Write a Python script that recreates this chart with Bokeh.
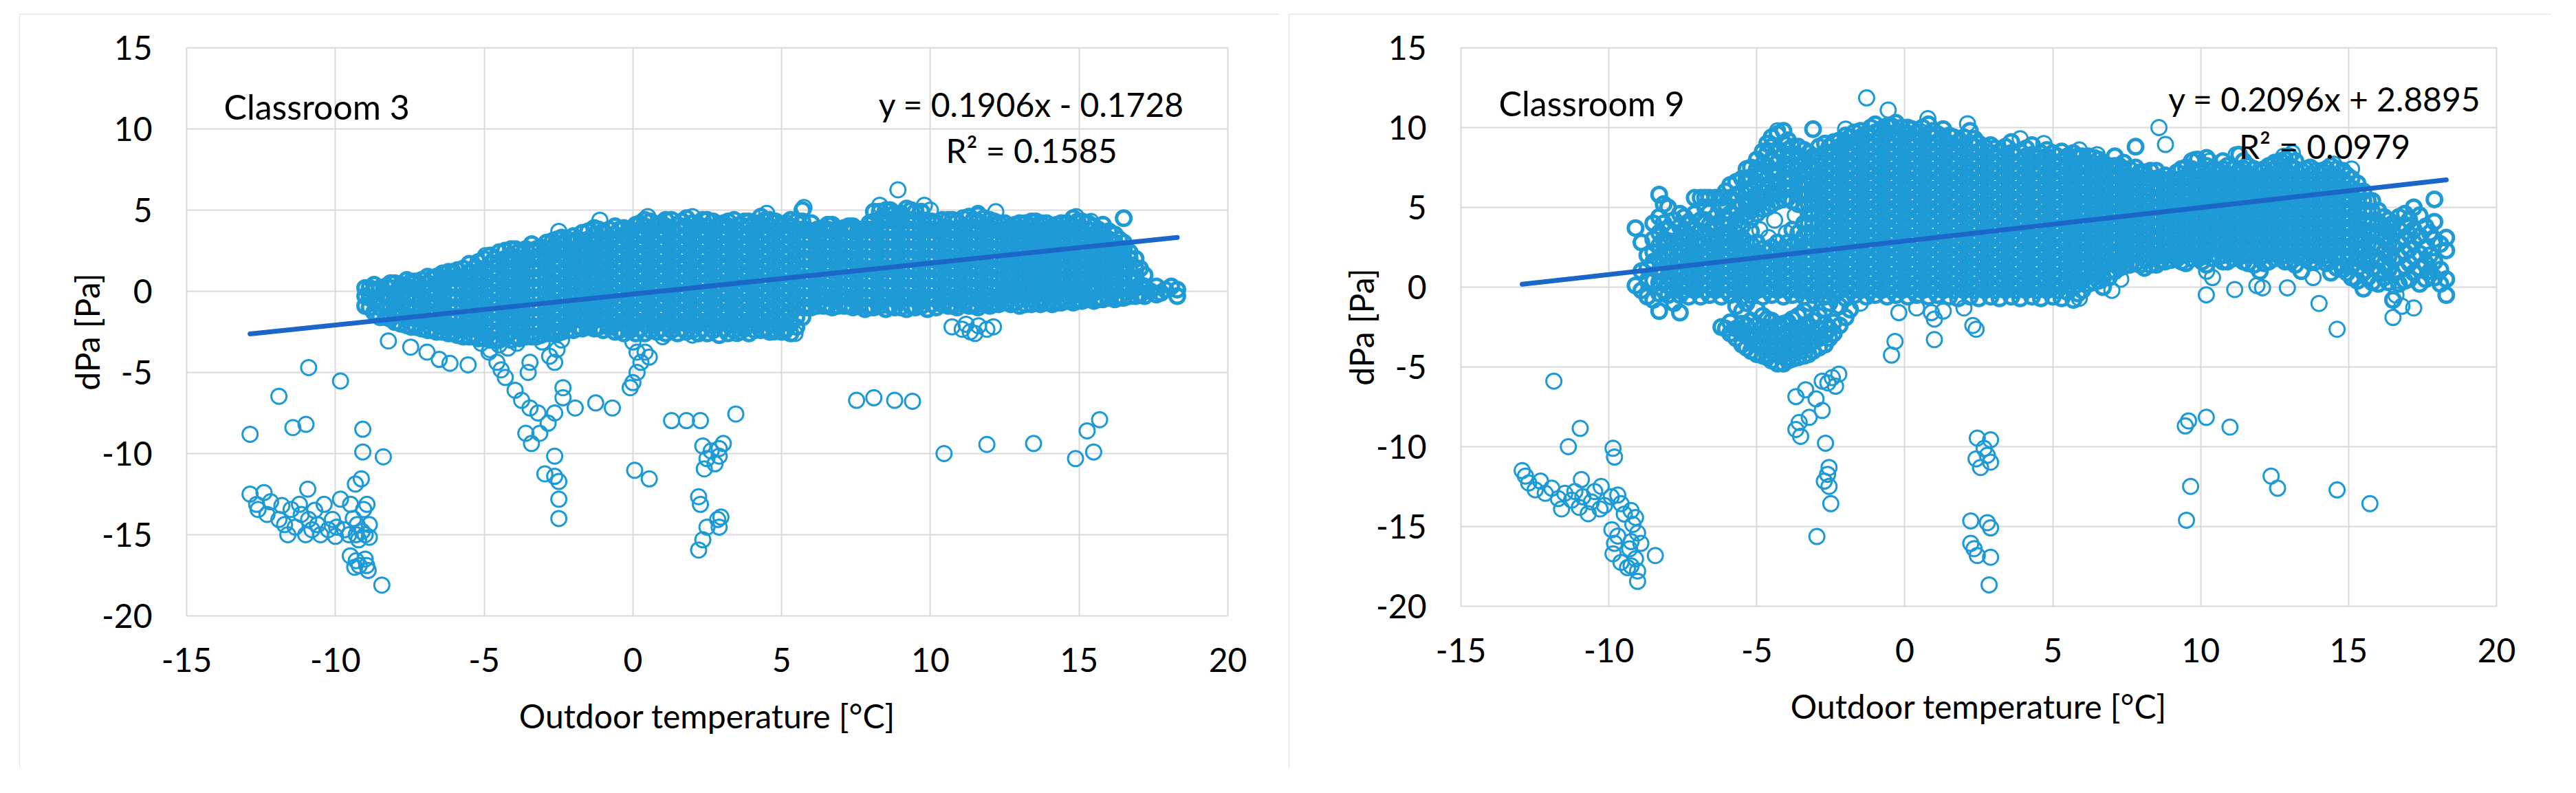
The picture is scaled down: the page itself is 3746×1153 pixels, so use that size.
from bokeh.plotting import figure
from bokeh.models import Label, FixedTicker, Spacer, PrintfTickFormatter
from bokeh.layouts import row, column
from bokeh.embed import file_html
from bokeh.resources import INLINE

# ---------------- data ----------------
x_ticks = [-15, -10, -5, 0, 5, 10, 15, 20]
y_ticks = [-20, -15, -10, -5, 0, 5, 10, 15]
x_title = "Outdoor temperature [°C]"
y_title = "dPa [Pa]"

room3_name = "Classroom 3"
room3_eq = "y = 0.1906x - 0.1728"
room3_r2 = "R² = 0.1585"
room3_fit = (0.1906, -0.1728)

room9_name = "Classroom 9"
room9_eq = "y = 0.2096x + 2.8895"
room9_r2 = "R² = 0.0979"
room9_fit = (0.2096, 2.8895)

# Classroom 3 - dense cloud, read column by column (temperature -> dPa values)
c3_col_x = [-9.0, -8.7, -8.3, -8.0, -7.6, -7.3, -6.9, -6.6, -6.2, -5.9, -5.5, -5.2, -4.8, -4.5, -4.1, -3.8,
            -3.4, -3.1, -2.7, -2.4, -2.0, -1.7, -1.3, -1.0, -0.6, -0.3, 0.1, 0.4, 0.8, 1.1, 1.5, 1.8,
            2.2, 2.5, 2.9, 3.2, 3.6, 3.9, 4.3, 4.6, 5.0, 5.3, 5.7, 6.0, 6.4, 6.7, 7.1, 7.4,
            7.8, 8.1, 8.5, 8.8, 9.2, 9.5, 9.9, 10.2, 10.6, 10.9, 11.3, 11.6, 12.0, 12.3, 12.7, 13.0,
            13.4, 13.7, 14.1, 14.4, 14.8, 15.1, 15.5, 15.8, 16.2, 16.5, 16.9, 17.2, 17.6, 17.9, 18.3]
c3_col_y = [
    [-0.9, -0.3, 0.2],
    [-1.3, -0.6, 0.0, 0.4],
    [-1.6, -1.0, -0.3, 0.3],
    [-1.9, -1.3, -0.7, -0.1, 0.5],
    [-2.1, -1.5, -0.9, -0.3, 0.3, 0.7],
    [-2.2, -1.7, -1.1, -0.5, 0.1, 0.6],
    [-2.4, -1.8, -1.2, -0.6, 0.0, 0.5, 0.9],
    [-2.5, -2.0, -1.4, -0.8, -0.2, 0.4, 0.9],
    [-2.6, -2.1, -1.5, -0.9, -0.3, 0.3, 0.8, 1.2],
    [-2.7, -2.2, -1.6, -1.0, -0.4, 0.2, 0.8, 1.3],
    [-2.8, -2.3, -1.7, -1.1, -0.5, 0.1, 0.7, 1.2, 1.7],
    [-2.9, -2.4, -1.8, -1.2, -0.6, 0.0, 0.6, 1.2, 1.8],
    [-3.0, -2.5, -1.9, -1.3, -0.7, -0.1, 0.5, 1.1, 1.7, 2.2],
    [-3.0, -2.4, -1.8, -1.2, -0.6, 0.0, 0.6, 1.2, 1.8, 2.4],
    [-3.0, -2.5, -1.9, -1.3, -0.7, -0.1, 0.5, 1.1, 1.7, 2.2, 2.6],
    [-2.9, -2.3, -1.7, -1.1, -0.5, 0.1, 0.7, 1.3, 1.9, 2.5],
    [-2.8, -2.2, -1.6, -1.0, -0.4, 0.2, 0.8, 1.4, 2.0, 2.5, 2.9],
    [-2.7, -2.1, -1.5, -0.9, -0.3, 0.3, 0.9, 1.5, 2.1, 2.7],
    [-2.6, -2.0, -1.4, -0.8, -0.2, 0.4, 1.0, 1.6, 2.2, 2.7, 3.1],
    [-2.5, -1.9, -1.3, -0.7, -0.1, 0.5, 1.1, 1.7, 2.3, 2.9, 3.3],
    [-2.4, -1.8, -1.2, -0.6, 0.0, 0.6, 1.2, 1.8, 2.4, 3.0, 3.4],
    [-2.3, -1.7, -1.1, -0.5, 0.1, 0.7, 1.3, 1.9, 2.5, 3.1, 3.6],
    [-2.3, -1.8, -1.2, -0.6, 0.0, 0.6, 1.2, 1.8, 2.4, 3.0, 3.5, 3.9],
    [-2.4, -1.7, -1.1, -0.5, 0.1, 0.7, 1.3, 1.9, 2.5, 3.1, 3.7],
    [-2.5, -1.9, -1.3, -0.7, -0.1, 0.5, 1.1, 1.7, 2.3, 2.9, 3.5, 4.0],
    [-2.6, -2.0, -1.4, -0.8, -0.2, 0.4, 1.0, 1.6, 2.2, 2.8, 3.4, 3.9],
    [-2.6, -1.9, -1.3, -0.7, -0.1, 0.5, 1.1, 1.7, 2.3, 2.9, 3.5, 4.1],
    [-2.6, -2.0, -1.4, -0.8, -0.2, 0.4, 1.0, 1.6, 2.2, 2.8, 3.4, 4.0, 4.4],
    [-2.5, -1.9, -1.3, -0.7, -0.1, 0.5, 1.1, 1.7, 2.3, 2.9, 3.5, 4.1],
    [-2.6, -2.0, -1.4, -0.8, -0.2, 0.4, 1.0, 1.6, 2.2, 2.8, 3.4, 4.0, 4.4],
    [-2.6, -1.9, -1.3, -0.7, -0.1, 0.5, 1.1, 1.7, 2.3, 2.9, 3.5, 4.1],
    [-2.5, -2.0, -1.4, -0.8, -0.2, 0.4, 1.0, 1.6, 2.2, 2.8, 3.4, 4.0, 4.5],
    [-2.6, -1.9, -1.3, -0.7, -0.1, 0.5, 1.1, 1.7, 2.3, 2.9, 3.5, 4.1],
    [-2.6, -2.0, -1.4, -0.8, -0.2, 0.4, 1.0, 1.6, 2.2, 2.8, 3.4, 4.0, 4.4],
    [-2.7, -1.9, -1.3, -0.7, -0.1, 0.5, 1.1, 1.7, 2.3, 2.9, 3.5, 4.1],
    [-2.6, -2.0, -1.4, -0.8, -0.2, 0.4, 1.0, 1.6, 2.2, 2.8, 3.4, 4.0, 4.3],
    [-2.5, -1.9, -1.3, -0.7, -0.1, 0.5, 1.1, 1.7, 2.3, 2.9, 3.5, 4.1],
    [-2.6, -2.0, -1.4, -0.8, -0.2, 0.4, 1.0, 1.6, 2.2, 2.8, 3.4, 4.0, 4.3],
    [-2.4, -1.9, -1.3, -0.7, -0.1, 0.5, 1.1, 1.7, 2.3, 2.9, 3.5, 4.1, 4.6],
    [-2.5, -2.0, -1.4, -0.8, -0.2, 0.4, 1.0, 1.6, 2.2, 2.8, 3.4, 4.0, 4.4],
    [-2.5, -1.9, -1.3, -0.7, -0.1, 0.5, 1.1, 1.7, 2.3, 2.9, 3.5, 4.1],
    [-2.6, -2.0, -1.4, -0.8, -0.2, 0.4, 1.0, 1.6, 2.2, 2.8, 3.4, 4.0, 4.4],
    [-1.6, -1.0, -0.4, 0.2, 0.8, 1.4, 2.0, 2.6, 3.2, 3.8, 4.3, 5.0],
    [-1.0, -0.5, 0.1, 0.7, 1.3, 1.9, 2.5, 3.1, 3.7, 4.2],
    [-0.9, -0.3, 0.3, 0.9, 1.5, 2.1, 2.7, 3.3, 3.9],
    [-1.0, -0.5, 0.1, 0.7, 1.3, 1.9, 2.5, 3.1, 3.7, 4.1],
    [-0.9, -0.3, 0.3, 0.9, 1.5, 2.1, 2.7, 3.3, 3.9],
    [-1.0, -0.5, 0.1, 0.7, 1.3, 1.9, 2.5, 3.1, 3.7, 4.0],
    [-1.1, -0.4, 0.2, 0.8, 1.4, 2.0, 2.6, 3.2, 3.8],
    [-1.0, -0.5, 0.1, 0.7, 1.3, 1.9, 2.5, 3.1, 3.7, 4.3, 4.9],
    [-1.1, -0.4, 0.2, 0.8, 1.4, 2.0, 2.6, 3.2, 3.8, 4.4, 5.0],
    [-1.0, -0.5, 0.1, 0.7, 1.3, 1.9, 2.5, 3.1, 3.7, 4.3, 4.8],
    [-1.1, -0.4, 0.2, 0.8, 1.4, 2.0, 2.6, 3.2, 3.8, 4.4, 5.1],
    [-1.0, -0.5, 0.1, 0.7, 1.3, 1.9, 2.5, 3.1, 3.7, 4.3, 4.9],
    [-1.1, -0.4, 0.2, 0.8, 1.4, 2.0, 2.6, 3.2, 3.8, 4.3],
    [-1.0, -0.5, 0.1, 0.7, 1.3, 1.9, 2.5, 3.1, 3.7, 4.2],
    [-0.9, -0.3, 0.3, 0.9, 1.5, 2.1, 2.7, 3.3, 3.9, 4.4],
    [-1.0, -0.5, 0.1, 0.7, 1.3, 1.9, 2.5, 3.1, 3.7, 4.3],
    [-0.9, -0.3, 0.3, 0.9, 1.5, 2.1, 2.7, 3.3, 3.9, 4.6],
    [-1.0, -0.5, 0.1, 0.7, 1.3, 1.9, 2.5, 3.1, 3.7, 4.3, 4.7],
    [-0.9, -0.3, 0.3, 0.9, 1.5, 2.1, 2.7, 3.3, 3.9, 4.4],
    [-0.8, -0.5, 0.1, 0.7, 1.3, 1.9, 2.5, 3.1, 3.7, 4.2],
    [-0.8, -0.2, 0.4, 1.0, 1.6, 2.2, 2.8, 3.4, 4.0],
    [-0.9, -0.5, 0.1, 0.7, 1.3, 1.9, 2.5, 3.1, 3.7, 4.2],
    [-0.8, -0.2, 0.4, 1.0, 1.6, 2.2, 2.8, 3.4, 4.0, 4.3],
    [-0.8, -0.5, 0.1, 0.7, 1.3, 1.9, 2.5, 3.1, 3.7, 4.2],
    [-0.8, -0.2, 0.4, 1.0, 1.6, 2.2, 2.8, 3.4, 4.0],
    [-0.7, -0.4, 0.1, 0.7, 1.3, 1.9, 2.5, 3.1, 3.7, 4.2],
    [-0.7, -0.2, 0.4, 1.0, 1.6, 2.2, 2.8, 3.4, 4.0, 4.5],
    [-0.6, 0.1, 0.7, 1.3, 1.9, 2.5, 3.1, 3.7, 4.3],
    [-0.6, -0.1, 0.4, 1.0, 1.6, 2.2, 2.8, 3.4, 4.0],
    [-0.5, 0.1, 0.7, 1.3, 1.9, 2.5, 3.1, 3.6, 4.1],
    [-0.5, 0.0, 0.6, 1.2, 1.8, 2.4, 3.0, 3.5],
    [-0.4, 0.2, 0.8, 1.4, 2.0, 2.6, 3.0, 4.5],
    [-0.3, 0.2, 0.8, 1.4, 2.0],
    [-0.3, 0.3, 1.0],
    [-0.2, 0.3],
    [0.1],
    [-0.3, 0.1],
]
# Classroom 3 - second pass of readings between the columns above
c3_mid_x = [-8.85, -8.5, -8.15, -7.8, -7.45, -7.1, -6.75, -6.4, -6.05, -5.7, -5.35, -5.0, -4.65, -4.3, -3.95,
            -3.6, -3.25, -2.9, -2.55, -2.2, -1.85, -1.5, -1.15, -0.8, -0.45, -0.1, 0.25, 0.6, 0.95, 1.3,
            1.65, 2.0, 2.35, 2.7, 3.05, 3.4, 3.75, 4.1, 4.45, 4.8, 5.15, 5.5, 5.85, 6.2, 6.55, 6.9,
            7.25, 7.6, 7.95, 8.3, 8.65, 9.0, 9.35, 9.7, 10.05, 10.4, 10.75, 11.1, 11.45, 11.8, 12.15, 12.5,
            12.85, 13.2, 13.55, 13.9, 14.25, 14.6, 14.95, 15.3, 15.65, 16.0, 16.35, 16.7, 17.05, 17.4, 17.75, 18.1]
c3_mid_y = [
    [-1.0, -0.4, 0.2],
    [-1.6, -1.0, -0.4, 0.2],
    [-1.7, -1.0, -0.4, 0.2, 0.5],
    [-2.0, -1.4, -0.8, -0.2, 0.4],
    [-2.2, -1.6, -1.0, -0.4, 0.2, 0.6],
    [-2.3, -1.6, -1.0, -0.4, 0.2, 0.7],
    [-2.4, -1.6, -1.0, -0.4, 0.2, 0.8],
    [-2.5, -1.6, -1.0, -0.4, 0.2, 0.8, 1.1],
    [-2.6, -2.2, -1.6, -1.0, -0.4, 0.2, 0.8, 1.2],
    [-2.8, -2.2, -1.6, -1.0, -0.4, 0.2, 0.8, 1.4],
    [-2.8, -2.2, -1.6, -1.0, -0.4, 0.2, 0.8, 1.4],
    [-2.9, -2.2, -1.6, -1.0, -0.4, 0.2, 0.8, 1.4, 2.0],
    [-3.0, -2.2, -1.6, -1.0, -0.4, 0.2, 0.8, 1.4, 2.0],
    [-2.8, -2.2, -1.6, -1.0, -0.4, 0.2, 0.8, 1.4, 2.0, 2.5],
    [-2.8, -2.2, -1.6, -1.0, -0.4, 0.2, 0.8, 1.4, 2.0, 2.6],
    [-2.8, -2.2, -1.6, -1.0, -0.4, 0.2, 0.8, 1.4, 2.0, 2.6],
    [-2.8, -2.2, -1.6, -1.0, -0.4, 0.2, 0.8, 1.4, 2.0, 2.6],
    [-2.6, -2.2, -1.6, -1.0, -0.4, 0.2, 0.8, 1.4, 2.0, 2.6, 3.0],
    [-2.6, -2.2, -1.6, -1.0, -0.4, 0.2, 0.8, 1.4, 2.0, 2.6, 3.2],
    [-2.4, -1.6, -1.0, -0.4, 0.2, 0.8, 1.4, 2.0, 2.6, 3.2],
    [-2.2, -1.6, -1.0, -0.4, 0.2, 0.8, 1.4, 2.0, 2.6, 3.2],
    [-2.2, -1.6, -1.0, -0.4, 0.2, 0.8, 1.4, 2.0, 2.6, 3.2, 3.7],
    [-2.2, -1.6, -1.0, -0.4, 0.2, 0.8, 1.4, 2.0, 2.6, 3.2, 3.8],
    [-2.2, -1.6, -1.0, -0.4, 0.2, 0.8, 1.4, 2.0, 2.6, 3.2, 3.8],
    [-2.4, -1.6, -1.0, -0.4, 0.2, 0.8, 1.4, 2.0, 2.6, 3.2, 3.8],
    [-2.4, -1.6, -1.0, -0.4, 0.2, 0.8, 1.4, 2.0, 2.6, 3.2, 3.8],
    [-2.3, -1.6, -1.0, -0.4, 0.2, 0.8, 1.4, 2.0, 2.6, 3.2, 3.8, 4.2],
    [-2.4, -1.6, -1.0, -0.4, 0.2, 0.8, 1.4, 2.0, 2.6, 3.2, 3.8, 4.3],
    [-2.3, -1.6, -1.0, -0.4, 0.2, 0.8, 1.4, 2.0, 2.6, 3.2, 3.8, 4.2],
    [-2.4, -1.6, -1.0, -0.4, 0.2, 0.8, 1.4, 2.0, 2.6, 3.2, 3.8, 4.4],
    [-2.3, -1.6, -1.0, -0.4, 0.2, 0.8, 1.4, 2.0, 2.6, 3.2, 3.8, 4.3],
    [-2.4, -1.6, -1.0, -0.4, 0.2, 0.8, 1.4, 2.0, 2.6, 3.2, 3.8, 4.2],
    [-2.3, -1.6, -1.0, -0.4, 0.2, 0.8, 1.4, 2.0, 2.6, 3.2, 3.8, 4.4],
    [-2.4, -1.6, -1.0, -0.4, 0.2, 0.8, 1.4, 2.0, 2.6, 3.2, 3.8, 4.3],
    [-2.3, -1.6, -1.0, -0.4, 0.2, 0.8, 1.4, 2.0, 2.6, 3.2, 3.8, 4.2],
    [-2.4, -1.6, -1.0, -0.4, 0.2, 0.8, 1.4, 2.0, 2.6, 3.2, 3.8, 4.4],
    [-2.3, -1.6, -1.0, -0.4, 0.2, 0.8, 1.4, 2.0, 2.6, 3.2, 3.8, 4.3],
    [-2.4, -1.6, -1.0, -0.4, 0.2, 0.8, 1.4, 2.0, 2.6, 3.2, 3.8, 4.2],
    [-2.3, -1.6, -1.0, -0.4, 0.2, 0.8, 1.4, 2.0, 2.6, 3.2, 3.8, 4.4],
    [-2.4, -1.6, -1.0, -0.4, 0.2, 0.8, 1.4, 2.0, 2.6, 3.2, 3.8, 4.3],
    [-2.3, -1.6, -1.0, -0.4, 0.2, 0.8, 1.4, 2.0, 2.6, 3.2, 3.8, 4.2],
    [-2.2, -1.6, -1.0, -0.4, 0.2, 0.8, 1.4, 2.0, 2.6, 3.2, 3.8, 4.3],
    [-1.0, -0.4, 0.2, 0.8, 1.4, 2.0, 2.6, 3.2, 3.8],
    [-0.9, -0.4, 0.2, 0.8, 1.4, 2.0, 2.6, 3.2, 3.8],
    [-0.9, -0.4, 0.2, 0.8, 1.4, 2.0, 2.6, 3.2, 3.8, 4.1],
    [-0.9, -0.4, 0.2, 0.8, 1.4, 2.0, 2.6, 3.2, 3.8],
    [-0.9, -0.4, 0.2, 0.8, 1.4, 2.0, 2.6, 3.2, 3.8, 4.0],
    [-0.9, -0.4, 0.2, 0.8, 1.4, 2.0, 2.6, 3.2, 3.8],
    [-1.0, -0.4, 0.2, 0.8, 1.4, 2.0, 2.6, 3.2, 3.8, 4.2],
    [-0.9, -0.4, 0.2, 0.8, 1.4, 2.0, 2.6, 3.2, 3.8, 4.4, 4.9],
    [-0.9, -0.4, 0.2, 0.8, 1.4, 2.0, 2.6, 3.2, 3.8, 4.4, 5.0],
    [-1.0, -0.4, 0.2, 0.8, 1.4, 2.0, 2.6, 3.2, 3.8, 4.4, 4.8],
    [-0.9, -0.4, 0.2, 0.8, 1.4, 2.0, 2.6, 3.2, 3.8, 4.4, 5.0],
    [-0.9, -0.4, 0.2, 0.8, 1.4, 2.0, 2.6, 3.2, 3.8, 4.4, 4.9],
    [-0.8, -0.4, 0.2, 0.8, 1.4, 2.0, 2.6, 3.2, 3.8, 4.3],
    [-0.8, -0.4, 0.2, 0.8, 1.4, 2.0, 2.6, 3.2, 3.8, 4.4],
    [-0.9, -0.4, 0.2, 0.8, 1.4, 2.0, 2.6, 3.2, 3.8, 4.4],
    [-0.8, -0.4, 0.2, 0.8, 1.4, 2.0, 2.6, 3.2, 3.8, 4.5],
    [-0.9, -0.4, 0.2, 0.8, 1.4, 2.0, 2.6, 3.2, 3.8, 4.4],
    [-0.8, -0.4, 0.2, 0.8, 1.4, 2.0, 2.6, 3.2, 3.8, 4.5],
    [-0.8, -0.4, 0.2, 0.8, 1.4, 2.0, 2.6, 3.2, 3.8, 4.3],
    [-0.7, -0.2, 0.2, 0.8, 1.4, 2.0, 2.6, 3.2, 3.8, 4.2],
    [-0.7, -0.2, 0.2, 0.8, 1.4, 2.0, 2.6, 3.2, 3.8, 4.1],
    [-0.8, -0.2, 0.2, 0.8, 1.4, 2.0, 2.6, 3.2, 3.8, 4.2],
    [-0.7, -0.2, 0.2, 0.8, 1.4, 2.0, 2.6, 3.2, 3.8, 4.3],
    [-0.7, -0.2, 0.2, 0.8, 1.4, 2.0, 2.6, 3.2, 3.8, 4.2],
    [-0.7, -0.2, 0.2, 0.8, 1.4, 2.0, 2.6, 3.2, 3.8, 4.1],
    [-0.6, -0.2, 0.2, 0.8, 1.4, 2.0, 2.6, 3.2, 3.8, 4.2],
    [-0.6, -0.2, 0.2, 0.8, 1.4, 2.0, 2.6, 3.2, 3.8, 4.3],
    [-0.5, 0.2, 0.8, 1.4, 2.0, 2.6, 3.2, 3.8, 4.2],
    [-0.5, 0.2, 0.8, 1.4, 2.0, 2.6, 3.2, 3.8],
    [-0.4, 0.2, 0.8, 1.4, 2.0, 2.6, 3.2, 3.7],
    [-0.4, 0.2, 0.8, 1.4, 2.0, 2.6, 3.2],
    [-0.3, 0.2, 0.8, 1.4, 2.0, 2.4],
    [-0.2, 0.4, 1.4],
    [0.0],
    [-0.1],
    [0.3],
]
# Classroom 3 - scattered points outside the cloud
c3_out = [
    (-12.87, -8.81), (-11.9, -6.47), (-10.9, -4.7), (-9.83, -5.53), (-11.43, -8.4), (-10.99, -8.2),
    (-9.08, -8.5), (-9.08, -9.9), (-8.39, -10.2),
    (-12.87, -12.5), (-12.65, -13.13), (-12.6, -13.44), (-12.3, -13.75), (-12.18, -12.97), (-11.9, -14.06),
    (-11.71, -14.38), (-11.49, -13.44), (-11.35, -14.53), (-11.21, -13.13), (-11.15, -13.75), (-10.93, -12.19),
    (-10.9, -14.06), (-10.79, -14.69), (-10.6, -14.38), (-10.38, -13.13), (-10.24, -14.69), (-10.1, -14.06),
    (-9.96, -14.53), (-9.83, -12.81), (-9.69, -14.69), (-9.55, -15.0), (-9.49, -13.13), (-9.33, -11.88),
    (-9.27, -14.38), (-9.22, -15.31), (-9.13, -11.56), (-9.05, -13.44), (-9.0, -15.0), (-8.94, -13.13),
    (-8.86, -14.38), (-8.86, -15.16), (-10.5, -15.0), (-11.6, -15.0), (-11.0, -15.0), (-10.0, -15.1),
    (-9.3, -15.0), (-9.1, -14.8), (-9.4, -14.0), (-11.8, -13.2), (-12.4, -12.4), (-10.7, -13.5),
    (-9.5, -16.3), (-9.3, -16.6), (-9.2, -16.9), (-9.0, -16.5), (-8.95, -16.9), (-8.9, -17.2), (-9.35, -17.0),
    (-8.44, -18.1),
    (-8.22, -3.06), (-7.47, -3.44), (-6.92, -3.75), (-6.51, -4.2), (-6.15, -4.44), (-5.54, -4.53),
    (-5.1, -3.2), (-4.8, -3.6), (-4.5, -3.3), (-4.2, -3.5), (-3.9, -3.2), (-4.84, -3.75), (-4.57, -4.38),
    (-4.43, -4.84), (-4.29, -5.31), (-3.96, -6.1), (-3.74, -6.72), (-3.46, -7.19), (-3.19, -7.5),
    (-3.6, -8.75), (-3.41, -9.38), (-3.13, -8.75), (-2.85, -8.13), (-2.63, -7.5), (-2.35, -6.56),
    (-2.35, -5.94), (-2.63, -4.38), (-2.55, -3.59), (-3.05, -3.13), (-3.46, -4.38), (-3.52, -5.0),
    (-2.4, -3.0), (-2.8, -4.0),
    (-2.96, -11.25), (-2.63, -11.4), (-2.49, -11.72), (-2.63, -10.16), (-2.49, -12.81), (-2.49, -14.0),
    (-1.94, -7.19), (-1.25, -6.88), (-0.69, -7.19),
    (0.0, -3.13), (0.14, -3.75), (0.27, -4.38), (0.41, -3.75), (0.55, -4.06), (0.14, -5.0), (0.0, -5.63),
    (-0.09, -5.94), (0.06, -11.03), (0.55, -11.56),
    (1.3, -7.97), (1.8, -7.97), (2.27, -7.97), (3.46, -7.56),
    (2.35, -9.53), (2.63, -9.84), (2.9, -9.69), (2.49, -10.31), (2.76, -10.63), (2.9, -10.16), (2.4, -10.94),
    (3.04, -9.38), (2.21, -12.66), (2.27, -13.13), (2.21, -15.94), (2.35, -15.31), (2.49, -14.53),
    (2.85, -14.06), (2.9, -14.53), (2.96, -13.91),
    (7.52, -6.72), (8.1, -6.56), (8.8, -6.72), (9.4, -6.78),
    (10.46, -10.0), (11.9, -9.44), (13.47, -9.38), (14.88, -10.31), (15.49, -9.9), (15.27, -8.6), (15.69, -7.91),
    (10.73, -2.19), (11.07, -2.34), (11.34, -2.5), (11.62, -2.13), (11.9, -2.34), (12.12, -2.19), (11.2, -2.03),
    (11.5, -2.6), (4.34, -2.34), (4.76, -2.5), (5.12, -2.44), (5.45, -2.6), (3.5, -2.6), (1.0, -2.8), (2.0, -2.7),
    (8.91, 6.25), (8.3, 5.3), (5.75, 5.16), (-1.11, 4.38), (-2.49, 3.69), (-4.96, 2.19), (9.8, 5.3), (10.0, 5.0),
    (11.6, 4.8), (12.2, 4.9), (14.9, 4.6), (15.4, 4.3), (4.5, 4.8), (0.5, 4.6), (2.0, 4.6),
]

# Classroom 9 - dense cloud, read column by column
c9_col_x = [-9.1, -8.7, -8.3, -8.0, -7.6, -7.3, -6.9, -6.6, -6.2, -5.9, -5.5, -5.2, -4.8, -4.5, -4.1, -3.8,
            -3.4, -3.1, -2.7, -2.4, -2.0, -1.7, -1.3, -1.0, -0.6, -0.3, 0.1, 0.4, 0.8, 1.1, 1.5, 1.8,
            2.2, 2.5, 2.9, 3.2, 3.6, 3.9, 4.3, 4.6, 5.0, 5.3, 5.7, 6.0, 6.4, 6.7, 7.1, 7.4,
            7.8, 8.1, 8.5, 8.8, 9.2, 9.5, 9.9, 10.2, 10.6, 10.9, 11.3, 11.6, 12.0, 12.3, 12.7, 13.0,
            13.4, 13.7, 14.1, 14.4, 14.8, 15.1, 15.5, 15.8, 16.2, 16.5, 16.9, 17.2, 17.6, 17.9, 18.3]
c9_col_y = [
    [0.1, 3.7],
    [-0.6, 0.4, 1.2, 2.0],
    [-1.5, -0.4, 0.3, 1.0, 1.8, 2.6, 3.4, 4.4, 5.8],
    [-0.5, 0.1, 0.7, 1.4, 2.1, 2.9, 3.6, 5.0],
    [-1.6, -0.5, 0.2, 0.9, 1.6, 2.3, 3.0, 3.8, 4.6],
    [-0.6, 0.0, 0.6, 1.2, 1.9, 2.6, 3.3, 4.1],
    [-0.6, 0.2, 0.8, 1.4, 2.0, 2.7, 3.5, 4.2, 5.6],
    [-0.5, 0.1, 0.7, 1.3, 1.9, 2.5, 3.2, 3.9, 4.7, 5.6],
    [-2.5, -0.6, 0.2, 0.8, 1.4, 2.0, 2.6, 3.3, 4.0, 5.0, 5.6],
    [-2.9, -2.2, -0.5, 0.1, 0.7, 1.3, 1.9, 2.5, 3.2, 3.9, 4.6, 5.6, 6.4],
    [-3.6, -2.9, -2.3, -1.5, -0.6, 0.0, 0.6, 1.2, 1.8, 2.4, 3.1, 3.8, 4.5, 5.2, 5.9, 6.8],
    [-4.0, -3.3, -2.7, -2.1, -0.5, 0.2, 0.8, 1.4, 2.0, 2.7, 3.5, 4.8, 5.5, 6.2, 6.9, 7.5],
    [-4.3, -3.7, -3.1, -2.5, -1.8, -0.6, 0.0, 0.6, 1.2, 1.8, 2.4, 4.9, 5.6, 6.3, 7.0, 7.7, 8.5],
    [-4.6, -4.0, -3.4, -2.8, -2.1, -0.5, 0.1, 0.7, 1.3, 1.9, 2.5, 5.2, 5.9, 6.6, 7.3, 8.0, 8.8, 9.4],
    [-4.8, -4.2, -3.6, -3.0, -2.3, -0.6, 0.0, 0.6, 1.2, 1.8, 2.4, 5.5, 6.2, 6.9, 7.6, 8.3, 9.0, 9.8],
    [-4.5, -3.9, -3.3, -2.7, -2.0, -0.5, 0.1, 0.7, 1.3, 1.9, 2.6, 3.6, 5.4, 6.1, 6.8, 7.5, 8.2, 8.8],
    [-4.3, -3.7, -3.1, -2.4, -1.5, -0.6, 0.0, 0.6, 1.2, 1.8, 2.5, 3.2, 4.0, 5.1, 5.8, 6.5, 7.2, 7.9, 8.6],
    [-4.0, -3.4, -2.8, -2.1, -0.5, 0.1, 0.7, 1.3, 1.9, 2.6, 3.3, 4.0, 4.7, 5.4, 6.1, 6.8, 7.5, 8.2, 9.9],
    [-3.6, -3.0, -2.3, -1.4, -0.6, 0.0, 0.6, 1.2, 1.8, 2.4, 3.0, 3.6, 4.2, 4.8, 5.4, 6.0, 6.6, 7.2, 7.8, 8.4, 9.0],
    [-2.9, -2.2, -0.5, 0.1, 0.7, 1.3, 1.9, 2.5, 3.1, 3.7, 4.3, 4.9, 5.5, 6.1, 6.7, 7.3, 7.9, 8.5, 9.1],
    [-1.9, -0.7, 0.0, 0.6, 1.2, 1.8, 2.4, 3.0, 3.6, 4.2, 4.8, 5.4, 6.0, 6.6, 7.2, 7.8, 8.4, 9.0, 9.5],
    [-0.5, 0.1, 0.7, 1.3, 1.9, 2.5, 3.1, 3.7, 4.3, 4.9, 5.5, 6.1, 6.7, 7.3, 7.9, 8.5, 9.1, 9.7],
    [-0.6, 0.0, 0.6, 1.2, 1.8, 2.4, 3.0, 3.6, 4.2, 4.8, 5.4, 6.0, 6.6, 7.2, 7.8, 8.4, 9.0, 9.6],
    [-0.5, 0.1, 0.7, 1.3, 1.9, 2.5, 3.1, 3.7, 4.3, 4.9, 5.5, 6.1, 6.7, 7.3, 7.9, 8.5, 9.1, 9.7, 10.2],
    [-0.6, 0.0, 0.6, 1.2, 1.8, 2.4, 3.0, 3.6, 4.2, 4.8, 5.4, 6.0, 6.6, 7.2, 7.8, 8.4, 9.0, 9.6, 10.1],
    [-0.5, 0.1, 0.7, 1.3, 1.9, 2.5, 3.1, 3.7, 4.3, 4.9, 5.5, 6.1, 6.7, 7.3, 7.9, 8.5, 9.1, 9.7, 10.3],
    [-0.6, 0.0, 0.6, 1.2, 1.8, 2.4, 3.0, 3.6, 4.2, 4.8, 5.4, 6.0, 6.6, 7.2, 7.8, 8.4, 9.0, 9.6, 10.0],
    [-0.5, 0.1, 0.7, 1.3, 1.9, 2.5, 3.1, 3.7, 4.3, 4.9, 5.5, 6.1, 6.7, 7.3, 7.9, 8.5, 9.1, 9.7],
    [-0.6, 0.0, 0.6, 1.2, 1.8, 2.4, 3.0, 3.6, 4.2, 4.8, 5.4, 6.0, 6.6, 7.2, 7.8, 8.4, 9.0, 9.6, 10.2],
    [-0.5, 0.1, 0.7, 1.3, 1.9, 2.5, 3.1, 3.7, 4.3, 4.9, 5.5, 6.1, 6.7, 7.3, 7.9, 8.5, 9.1, 9.6],
    [-0.6, 0.0, 0.6, 1.2, 1.8, 2.4, 3.0, 3.6, 4.2, 4.8, 5.4, 6.0, 6.6, 7.2, 7.8, 8.4, 9.0, 9.5],
    [-0.7, 0.1, 0.7, 1.3, 1.9, 2.5, 3.1, 3.7, 4.3, 4.9, 5.5, 6.1, 6.7, 7.3, 7.9, 8.5, 9.1],
    [-0.6, 0.0, 0.6, 1.2, 1.8, 2.4, 3.0, 3.6, 4.2, 4.8, 5.4, 6.0, 6.6, 7.2, 7.8, 8.4, 9.0, 9.8],
    [-0.7, 0.1, 0.7, 1.3, 1.9, 2.5, 3.1, 3.7, 4.3, 4.9, 5.5, 6.1, 6.7, 7.3, 7.9, 8.5, 9.0],
    [-0.6, 0.0, 0.6, 1.2, 1.8, 2.4, 3.0, 3.6, 4.2, 4.8, 5.4, 6.0, 6.6, 7.2, 7.8, 8.4, 8.9],
    [-0.7, 0.1, 0.7, 1.3, 1.9, 2.5, 3.1, 3.7, 4.3, 4.9, 5.5, 6.1, 6.7, 7.3, 7.9, 8.5],
    [-0.6, 0.0, 0.6, 1.2, 1.8, 2.4, 3.0, 3.6, 4.2, 4.8, 5.4, 6.0, 6.6, 7.2, 7.8, 8.4, 9.1],
    [-0.7, 0.1, 0.7, 1.3, 1.9, 2.5, 3.1, 3.7, 4.3, 4.9, 5.5, 6.1, 6.7, 7.3, 7.9, 8.5],
    [-0.6, 0.0, 0.6, 1.2, 1.8, 2.4, 3.0, 3.6, 4.2, 4.8, 5.4, 6.0, 6.6, 7.2, 7.8, 8.3, 8.9],
    [-0.7, 0.1, 0.7, 1.3, 1.9, 2.5, 3.1, 3.7, 4.3, 4.9, 5.5, 6.1, 6.7, 7.3, 7.9, 8.4],
    [-0.6, 0.0, 0.6, 1.2, 1.8, 2.4, 3.0, 3.6, 4.2, 4.8, 5.4, 6.0, 6.6, 7.2, 7.8, 8.4],
    [-0.7, 0.1, 0.7, 1.3, 1.9, 2.5, 3.1, 3.7, 4.3, 4.9, 5.5, 6.1, 6.7, 7.3, 7.9, 8.5],
    [-0.8, 0.0, 0.6, 1.2, 1.8, 2.4, 3.0, 3.6, 4.2, 4.8, 5.4, 6.0, 6.6, 7.2, 7.8, 8.4],
    [-0.2, 0.4, 1.0, 1.6, 2.2, 2.8, 3.4, 4.0, 4.6, 5.2, 5.8, 6.4, 7.0, 7.6, 8.2],
    [0.3, 0.9, 1.5, 2.1, 2.7, 3.3, 3.9, 4.5, 5.1, 5.7, 6.3, 6.9, 7.5, 8.1],
    [0.0, 0.6, 1.2, 1.8, 2.4, 3.0, 3.6, 4.2, 4.8, 5.4, 6.0, 6.6, 7.2, 7.8],
    [1.0, 1.6, 2.2, 2.8, 3.4, 4.0, 4.6, 5.2, 5.8, 6.4, 7.0, 7.6, 8.2],
    [1.3, 1.9, 2.5, 3.1, 3.7, 4.3, 4.9, 5.5, 6.1, 6.7, 7.3, 7.8],
    [1.5, 2.1, 2.7, 3.3, 3.9, 4.5, 5.1, 5.7, 6.3, 6.9, 7.5, 8.8],
    [1.2, 1.8, 2.4, 3.0, 3.6, 4.2, 4.8, 5.4, 6.0, 6.6, 7.2],
    [1.4, 2.0, 2.6, 3.2, 3.8, 4.4, 5.0, 5.6, 6.2, 6.8, 7.3],
    [1.6, 2.2, 2.8, 3.4, 4.0, 4.6, 5.2, 5.8, 6.4, 7.0],
    [1.8, 2.4, 3.0, 3.6, 4.2, 4.8, 5.4, 6.0, 6.6, 7.2],
    [1.5, 2.1, 2.7, 3.3, 3.9, 4.5, 5.1, 5.7, 6.3, 6.9, 7.5],
    [1.9, 2.5, 3.1, 3.7, 4.3, 4.9, 5.5, 6.1, 6.7, 7.3, 8.0],
    [1.4, 2.2, 2.8, 3.4, 4.0, 4.6, 5.2, 5.8, 6.4, 7.0, 7.6, 8.1],
    [1.9, 2.5, 3.1, 3.7, 4.3, 4.9, 5.5, 6.1, 6.7, 7.3],
    [1.6, 2.2, 2.8, 3.4, 4.0, 4.6, 5.2, 5.8, 6.4, 7.0, 7.6],
    [1.9, 2.5, 3.1, 3.7, 4.3, 4.9, 5.5, 6.1, 6.7, 7.3, 8.3],
    [1.5, 2.2, 2.8, 3.4, 4.0, 4.6, 5.2, 5.8, 6.4, 7.0, 7.6],
    [1.0, 1.9, 2.5, 3.1, 3.7, 4.3, 4.9, 5.5, 6.1, 6.7, 7.3],
    [1.6, 2.2, 2.8, 3.4, 4.0, 4.6, 5.2, 5.8, 6.4, 7.0, 7.6],
    [1.9, 2.5, 3.1, 3.7, 4.3, 4.9, 5.5, 6.1, 6.7, 7.3, 7.9],
    [1.6, 2.2, 2.8, 3.4, 4.0, 4.6, 5.2, 5.8, 6.4, 7.0, 7.6, 8.2],
    [1.0, 1.9, 2.5, 3.1, 3.7, 4.3, 4.9, 5.5, 6.1, 6.7, 7.3],
    [1.6, 2.2, 2.8, 3.4, 4.0, 4.6, 5.2, 5.8, 6.4, 7.0, 7.5],
    [1.9, 2.5, 3.1, 3.7, 4.3, 4.9, 5.5, 6.1, 6.7, 7.3],
    [0.9, 1.6, 2.2, 2.8, 3.4, 4.0, 4.6, 5.2, 5.8, 6.4, 7.0, 7.6],
    [1.1, 1.9, 2.5, 3.1, 3.7, 4.3, 4.9, 5.5, 6.1, 6.7, 7.3],
    [0.6, 1.3, 2.0, 2.6, 3.2, 3.8, 4.4, 5.0, 5.6, 6.2, 6.8],
    [-0.1, 0.9, 1.6, 2.3, 3.0, 3.6, 4.2, 4.8, 5.4, 6.0],
    [0.3, 1.2, 1.9, 2.6, 3.3, 4.0, 4.7, 5.4],
    [0.6, 1.4, 2.2, 3.0, 3.7, 4.4],
    [-0.8, 0.8, 1.7, 2.5, 3.3, 4.0],
    [0.4, 1.3, 2.2, 3.1, 3.9, 4.6],
    [0.9, 1.9, 2.8, 3.6, 5.0],
    [0.5, 1.5, 2.5, 3.8],
    [0.6, 1.6, 3.0, 4.1, 5.5],
    [-0.5, 0.5, 2.3, 3.1],
]
# Classroom 9 - second pass of readings between the columns above
c9_mid_x = [-8.9, -8.5, -8.15, -7.8, -7.45, -7.1, -6.75, -6.4, -6.05, -5.7, -5.35, -5.0, -4.65, -4.3, -3.95,
            -3.6, -3.25, -2.9, -2.55, -2.2, -1.85, -1.5, -1.15, -0.8, -0.45, -0.1, 0.25, 0.6, 0.95, 1.3,
            1.65, 2.0, 2.35, 2.7, 3.05, 3.4, 3.75, 4.1, 4.45, 4.8, 5.15, 5.5, 5.85, 6.2, 6.55, 6.9,
            7.25, 7.6, 7.95, 8.3, 8.65, 9.0, 9.35, 9.7, 10.05, 10.4, 10.75, 11.1, 11.45, 11.8, 12.15, 12.5,
            12.85, 13.2, 13.55, 13.9, 14.25, 14.6, 14.95, 15.3, 15.65, 16.0, 16.35, 16.7, 17.05, 17.4, 17.75, 18.1]
c9_mid_y = [
    [-0.2, 1.0, 2.8],
    [-0.8, 0.4, 1.6, 2.2, 3.0, 4.0],
    [-0.2, 0.4, 1.0, 1.6, 2.2, 3.0, 4.0, 5.2],
    [-1.0, -0.2, 0.4, 1.0, 1.6, 2.2, 2.8, 3.4, 4.2],
    [-0.2, 0.4, 1.0, 1.6, 2.2, 2.8, 3.4, 4.4],
    [-0.2, 0.4, 1.0, 1.6, 2.2, 2.8, 3.6, 4.6, 5.6],
    [-0.2, 0.4, 1.0, 1.6, 2.2, 2.8, 3.4, 4.2, 5.0, 5.6],
    [-0.2, 0.4, 1.0, 1.6, 2.2, 2.8, 3.6, 4.4, 5.6],
    [-2.6, -0.2, 0.4, 1.0, 1.6, 2.2, 2.8, 3.4, 4.2, 5.2, 6.0],
    [-3.2, -2.6, -1.2, -0.2, 0.4, 1.0, 1.6, 2.2, 2.8, 3.4, 4.2, 5.0, 5.8, 6.6],
    [-3.8, -3.0, -2.4, -1.0, -0.2, 0.4, 1.0, 1.6, 2.2, 2.8, 4.4, 5.2, 6.0, 6.8, 7.4],
    [-4.2, -3.6, -3.0, -2.4, -1.4, -0.2, 0.4, 1.0, 1.6, 2.2, 2.8, 4.6, 5.2, 5.8, 6.6, 7.4, 8.0],
    [-4.4, -3.8, -3.2, -2.6, -2.0, -0.2, 0.4, 1.0, 1.6, 2.2, 5.0, 5.6, 6.2, 6.8, 7.6, 8.4, 9.0],
    [-4.8, -4.2, -3.6, -3.0, -2.4, -0.2, 0.4, 1.0, 1.6, 2.2, 2.8, 5.4, 6.0, 6.6, 7.2, 7.8, 8.6, 9.6],
    [-4.6, -4.0, -3.4, -2.8, -2.2, -0.2, 0.4, 1.0, 1.6, 2.2, 2.8, 5.6, 6.2, 6.8, 7.4, 8.0, 8.6, 9.2],
    [-4.4, -3.8, -3.2, -2.6, -1.8, -0.2, 0.4, 1.0, 1.6, 2.2, 2.8, 3.4, 5.2, 5.8, 6.4, 7.0, 7.6, 8.2, 8.8],
    [-4.2, -3.6, -3.0, -2.4, -1.0, -0.2, 0.4, 1.0, 1.6, 2.2, 2.8, 3.4, 4.0, 4.6, 5.2, 5.8, 6.4, 7.0, 7.6, 8.4],
    [-3.8, -3.2, -2.6, -1.8, -0.2, 0.4, 1.0, 1.6, 2.2, 2.8, 3.4, 4.0, 4.6, 5.2, 5.8, 6.4, 7.0, 7.6, 8.2, 8.8],
    [-3.2, -2.6, -1.0, -0.2, 0.4, 1.0, 1.6, 2.2, 2.8, 3.4, 4.0, 4.6, 5.2, 5.8, 6.4, 7.0, 7.6, 8.2, 8.8],
    [-2.4, -1.2, -0.2, 0.4, 1.0, 1.6, 2.2, 2.8, 3.4, 4.0, 4.6, 5.2, 5.8, 6.4, 7.0, 7.6, 8.2, 8.8, 9.2],
    [-1.4, -0.2, 0.4, 1.0, 1.6, 2.2, 2.8, 3.4, 4.0, 4.6, 5.2, 5.8, 6.4, 7.0, 7.6, 8.2, 8.8, 9.4],
    [-0.2, 0.4, 1.0, 1.6, 2.2, 2.8, 3.4, 4.0, 4.6, 5.2, 5.8, 6.4, 7.0, 7.6, 8.2, 8.8, 9.4, 9.8],
    [-0.2, 0.4, 1.0, 1.6, 2.2, 2.8, 3.4, 4.0, 4.6, 5.2, 5.8, 6.4, 7.0, 7.6, 8.2, 8.8, 9.4, 10.0],
    [-0.2, 0.4, 1.0, 1.6, 2.2, 2.8, 3.4, 4.0, 4.6, 5.2, 5.8, 6.4, 7.0, 7.6, 8.2, 8.8, 9.4, 9.9],
    [-0.2, 0.4, 1.0, 1.6, 2.2, 2.8, 3.4, 4.0, 4.6, 5.2, 5.8, 6.4, 7.0, 7.6, 8.2, 8.8, 9.4, 10.1],
    [-0.2, 0.4, 1.0, 1.6, 2.2, 2.8, 3.4, 4.0, 4.6, 5.2, 5.8, 6.4, 7.0, 7.6, 8.2, 8.8, 9.4, 10.0],
    [-0.2, 0.4, 1.0, 1.6, 2.2, 2.8, 3.4, 4.0, 4.6, 5.2, 5.8, 6.4, 7.0, 7.6, 8.2, 8.8, 9.4, 9.9],
    [-0.2, 0.4, 1.0, 1.6, 2.2, 2.8, 3.4, 4.0, 4.6, 5.2, 5.8, 6.4, 7.0, 7.6, 8.2, 8.8, 9.4, 10.0],
    [-0.2, 0.4, 1.0, 1.6, 2.2, 2.8, 3.4, 4.0, 4.6, 5.2, 5.8, 6.4, 7.0, 7.6, 8.2, 8.8, 9.4, 9.8],
    [-0.2, 0.4, 1.0, 1.6, 2.2, 2.8, 3.4, 4.0, 4.6, 5.2, 5.8, 6.4, 7.0, 7.6, 8.2, 8.8, 9.4, 9.9],
    [-0.2, 0.4, 1.0, 1.6, 2.2, 2.8, 3.4, 4.0, 4.6, 5.2, 5.8, 6.4, 7.0, 7.6, 8.2, 8.8, 9.4],
    [-0.2, 0.4, 1.0, 1.6, 2.2, 2.8, 3.4, 4.0, 4.6, 5.2, 5.8, 6.4, 7.0, 7.6, 8.2, 8.8, 9.4],
    [-0.2, 0.4, 1.0, 1.6, 2.2, 2.8, 3.4, 4.0, 4.6, 5.2, 5.8, 6.4, 7.0, 7.6, 8.2, 8.8, 9.3],
    [-0.2, 0.4, 1.0, 1.6, 2.2, 2.8, 3.4, 4.0, 4.6, 5.2, 5.8, 6.4, 7.0, 7.6, 8.2, 8.8],
    [-0.2, 0.4, 1.0, 1.6, 2.2, 2.8, 3.4, 4.0, 4.6, 5.2, 5.8, 6.4, 7.0, 7.6, 8.2, 8.7],
    [-0.2, 0.4, 1.0, 1.6, 2.2, 2.8, 3.4, 4.0, 4.6, 5.2, 5.8, 6.4, 7.0, 7.6, 8.2, 8.8],
    [-0.2, 0.4, 1.0, 1.6, 2.2, 2.8, 3.4, 4.0, 4.6, 5.2, 5.8, 6.4, 7.0, 7.6, 8.2],
    [-0.2, 0.4, 1.0, 1.6, 2.2, 2.8, 3.4, 4.0, 4.6, 5.2, 5.8, 6.4, 7.0, 7.6, 8.2, 8.7],
    [-0.2, 0.4, 1.0, 1.6, 2.2, 2.8, 3.4, 4.0, 4.6, 5.2, 5.8, 6.4, 7.0, 7.6, 8.2],
    [-0.2, 0.4, 1.0, 1.6, 2.2, 2.8, 3.4, 4.0, 4.6, 5.2, 5.8, 6.4, 7.0, 7.6, 8.2, 8.6],
    [-0.2, 0.4, 1.0, 1.6, 2.2, 2.8, 3.4, 4.0, 4.6, 5.2, 5.8, 6.4, 7.0, 7.6, 8.2],
    [-0.3, 0.4, 1.0, 1.6, 2.2, 2.8, 3.4, 4.0, 4.6, 5.2, 5.8, 6.4, 7.0, 7.6, 8.2],
    [-0.4, 0.4, 1.0, 1.6, 2.2, 2.8, 3.4, 4.0, 4.6, 5.2, 5.8, 6.4, 7.0, 7.6, 8.2],
    [0.2, 1.0, 1.6, 2.2, 2.8, 3.4, 4.0, 4.6, 5.2, 5.8, 6.4, 7.0, 7.6, 8.2],
    [0.4, 1.0, 1.6, 2.2, 2.8, 3.4, 4.0, 4.6, 5.2, 5.8, 6.4, 7.0, 7.6, 8.0],
    [0.6, 1.0, 1.6, 2.2, 2.8, 3.4, 4.0, 4.6, 5.2, 5.8, 6.4, 7.0, 7.6],
    [1.2, 1.6, 2.2, 2.8, 3.4, 4.0, 4.6, 5.2, 5.8, 6.4, 7.0, 7.6],
    [1.4, 2.0, 2.6, 3.2, 3.8, 4.4, 5.0, 5.6, 6.2, 6.8, 7.4],
    [1.4, 2.0, 2.6, 3.2, 3.8, 4.4, 5.0, 5.6, 6.2, 6.8, 7.2],
    [1.4, 2.0, 2.6, 3.2, 3.8, 4.4, 5.0, 5.6, 6.2, 6.8, 7.3],
    [1.6, 2.0, 2.6, 3.2, 3.8, 4.4, 5.0, 5.6, 6.2, 6.8],
    [1.7, 2.6, 3.2, 3.8, 4.4, 5.0, 5.6, 6.2, 6.8],
    [1.6, 2.0, 2.6, 3.2, 3.8, 4.4, 5.0, 5.6, 6.2, 6.8, 7.4],
    [1.8, 2.6, 3.2, 3.8, 4.4, 5.0, 5.6, 6.2, 6.8, 7.4, 7.9],
    [1.6, 2.0, 2.6, 3.2, 3.8, 4.4, 5.0, 5.6, 6.2, 6.8, 7.4],
    [1.8, 2.6, 3.2, 3.8, 4.4, 5.0, 5.6, 6.2, 6.8, 7.4],
    [1.6, 2.0, 2.6, 3.2, 3.8, 4.4, 5.0, 5.6, 6.2, 6.8, 7.4, 7.9],
    [1.8, 2.6, 3.2, 3.8, 4.4, 5.0, 5.6, 6.2, 6.8, 7.4],
    [1.6, 2.0, 2.6, 3.2, 3.8, 4.4, 5.0, 5.6, 6.2, 6.8, 7.4, 7.9],
    [1.4, 2.0, 2.6, 3.2, 3.8, 4.4, 5.0, 5.6, 6.2, 6.8, 7.4],
    [1.5, 2.0, 2.6, 3.2, 3.8, 4.4, 5.0, 5.6, 6.2, 6.8, 7.4],
    [1.8, 2.6, 3.2, 3.8, 4.4, 5.0, 5.6, 6.2, 6.8, 7.4, 7.8],
    [1.6, 2.0, 2.6, 3.2, 3.8, 4.4, 5.0, 5.6, 6.2, 6.8, 7.4, 8.0],
    [1.4, 2.0, 2.6, 3.2, 3.8, 4.4, 5.0, 5.6, 6.2, 6.8, 7.4, 7.9],
    [1.8, 2.6, 3.2, 3.8, 4.4, 5.0, 5.6, 6.2, 6.8, 7.4],
    [1.6, 2.0, 2.6, 3.2, 3.8, 4.4, 5.0, 5.6, 6.2, 6.8, 7.3],
    [1.5, 2.0, 2.6, 3.2, 3.8, 4.4, 5.0, 5.6, 6.2, 6.8, 7.4],
    [1.2, 2.0, 2.6, 3.2, 3.8, 4.4, 5.0, 5.6, 6.2, 6.8, 7.4],
    [0.9, 1.6, 2.2, 2.8, 3.4, 4.0, 4.6, 5.2, 5.8, 6.4, 7.0],
    [0.4, 1.2, 1.8, 2.4, 3.0, 3.6, 4.2, 4.8, 5.4, 6.0, 6.5],
    [0.6, 1.4, 2.0, 2.7, 3.4, 4.1, 4.8, 5.4],
    [0.2, 1.0, 1.8, 2.6, 3.4, 4.1, 4.8],
    [0.3, 1.1, 1.9, 2.7, 3.5, 4.2],
    [0.2, 1.0, 1.9, 2.8, 3.6, 4.4],
    [0.5, 1.5, 2.4, 3.3, 4.2],
    [0.2, 1.2, 2.1, 3.2, 4.5],
    [1.0, 2.0, 3.4],
    [0.2, 1.1, 2.7],
]
# Classroom 9 - scattered points outside the cloud
c9_out = [
    (-11.86, -5.89), (-10.97, -8.85), (-11.37, -10.0), (-9.86, -10.1), (-9.81, -10.65),
    (-12.93, -11.5), (-12.82, -11.84), (-12.71, -12.27), (-12.49, -12.7), (-12.31, -12.16), (-12.15, -12.92),
    (-11.93, -12.6), (-11.71, -13.25), (-11.49, -12.92), (-11.26, -13.35), (-11.15, -12.81), (-10.93, -12.06),
    (-10.88, -13.14), (-10.59, -13.46), (-10.48, -12.81), (-10.26, -12.49), (-10.15, -13.68), (-9.92, -13.14),
    (-9.7, -13.03), (-9.59, -13.57), (-9.48, -14.22), (-9.25, -14.0), (-9.1, -14.44), (-9.19, -14.87),
    (-9.03, -15.41), (-9.25, -15.95), (-9.81, -16.06), (-9.86, -16.71), (-9.59, -17.25), (-9.25, -17.47),
    (-9.03, -17.79), (-9.03, -18.44), (-9.37, -17.58), (-8.43, -16.82), (-8.92, -16.06), (-9.1, -17.03),
    (-11.0, -13.8), (-10.7, -14.2), (-10.3, -13.9), (-11.6, -13.9), (-9.9, -15.2), (-9.7, -15.6), (-9.3, -16.4),
    (-2.79, -5.89), (-2.45, -5.67), (-2.23, -5.45), (-2.34, -6.21), (-3.35, -6.43), (-3.68, -6.86),
    (-2.79, -7.73), (-3.23, -8.16), (-3.57, -8.48), (-3.68, -8.92), (-3.52, -9.35), (-2.68, -9.78),
    (-2.56, -11.3), (-2.61, -11.73), (-2.72, -12.16), (-2.56, -12.49), (-2.5, -13.57), (-2.97, -15.63),
    (-3.0, -7.0), (-2.6, -6.0),
    (-0.33, -3.4), (-0.45, -4.26), (1.0, -3.29), (2.41, -2.64), (2.3, -2.4), (1.0, -2.0), (0.9, -1.6),
    (-0.2, -1.6), (1.3, -1.5), (2.0, -1.3), (-1.5, -1.0), (0.4, -1.3),
    (2.45, -9.46), (2.9, -9.57), (2.68, -10.11), (2.41, -10.76), (2.79, -10.54), (2.9, -10.97), (2.56, -11.3),
    (2.23, -14.65), (2.79, -14.76), (2.9, -15.09), (2.23, -16.06), (2.34, -16.39), (2.45, -16.82),
    (2.9, -16.93), (2.85, -18.66),
    (9.59, -8.38), (10.19, -8.16), (10.99, -8.77), (9.48, -8.7), (9.66, -12.49), (9.52, -14.61),
    (12.38, -11.84), (12.6, -12.6), (14.61, -12.71), (15.72, -13.57),
    (14.61, -2.64), (14.0, -1.02), (16.5, -1.9), (16.8, -1.2), (17.2, -1.3), (16.6, -0.5), (10.19, -0.48),
    (11.15, -0.15), (12.93, -0.04), (12.09, -0.04), (11.9, 0.1), (13.8, 0.6), (10.4, 0.6), (10.2, 1.0),
    (5.9, -0.7), (7.0, -0.2), (7.3, 0.5),
    (-1.29, 11.86), (-0.56, 11.1), (8.59, 10.0), (8.81, 8.94), (0.78, 10.56), (2.12, 10.24), (-4.3, 9.8),
    (-2.0, 9.9), (3.9, 9.3), (4.7, 9.0), (9.8, 8.0), (10.3, 7.9), (11.2, 8.3), (12.8, 8.2), (13.1, 8.4),
    (14.5, 7.7), (15.1, 7.4), (5.9, 8.6), (6.5, 8.3),
    (-4.9, 3.6), (-4.4, 4.2), (-4.0, 3.4), (-5.2, 4.2), (-4.6, 3.1), (-3.7, 4.5),
]

# ---------------- styling ----------------
FONT = "Lato"
MARKER = "#1e9ad6"
TREND = "#1a66c9"
GRID = "#d9d9d9"


def flatten(groups):
    xs, ys = [], []
    for col_x, col_y in groups:
        for cx, cys in zip(col_x, col_y):
            for cy in cys:
                xs.append(cx)
                ys.append(cy)
    return xs, ys


def build(name, eq, r2, fit, groups, out, fw, fh, borders, name_pos, eq_pos):
    p = figure(frame_width=fw, frame_height=fh, x_range=(-15, 20), y_range=(-20, 15),
               output_backend="svg", toolbar_location=None,
               min_border_left=borders[0], min_border_right=borders[1],
               min_border_top=borders[2], min_border_bottom=borders[3])
    p.styles = {"outline": "3px solid #d9d9d9", "outline-offset": "-3px"}
    p.background_fill_color = "white"
    p.border_fill_color = "white"
    p.outline_line_color = GRID
    p.outline_line_width = 2
    p.grid.grid_line_color = GRID
    p.grid.grid_line_width = 2
    p.xaxis.ticker = FixedTicker(ticks=x_ticks)
    p.yaxis.ticker = FixedTicker(ticks=y_ticks)
    for ax in p.axis:
        ax.formatter = PrintfTickFormatter(format="%d")
        ax.axis_line_color = None
        ax.major_tick_line_color = None
        ax.minor_tick_line_color = None
        ax.major_tick_out = 0
        ax.major_tick_in = 0
        ax.major_label_text_font = FONT
        ax.major_label_text_font_size = "48px"
        ax.major_label_text_color = "black"
        ax.axis_label_text_font = FONT
        ax.axis_label_text_font_size = "48px"
        ax.axis_label_text_font_style = "normal"
        ax.axis_label_text_color = "black"
    p.xaxis.axis_label = x_title
    p.yaxis.axis_label = y_title
    p.xaxis.major_label_standoff = 46
    p.xaxis.axis_label_standoff = 32
    p.yaxis.major_label_standoff = 50
    p.yaxis.axis_label_standoff = -10

    # dense cloud and scattered points
    cx, cy = flatten(groups)
    p.scatter(cx, cy, marker="circle", size=21, fill_color=None,
              line_color=MARKER, line_width=5)
    ox = [pt[0] for pt in out]
    oy = [pt[1] for pt in out]
    p.scatter(ox, oy, marker="circle", size=22, fill_color=None,
              line_color=MARKER, line_width=3)

    # linear trendline over the data's temperature range
    slope, icpt = fit
    all_x = cx + ox
    x0, x1 = min(all_x), max(all_x)
    p.line([x0, x1], [slope * x0 + icpt, slope * x1 + icpt],
           line_color=TREND, line_width=7, line_cap="round")

    p.add_layout(Label(x=name_pos[0], y=name_pos[1], text=name, text_font=FONT,
                       text_font_size="50px", text_color="black",
                       text_align="left", text_baseline="alphabetic"))
    p.add_layout(Label(x=eq_pos[0], y=eq_pos[1], text=eq, text_font=FONT,
                       text_font_size="48px", text_color="black",
                       text_align="center", text_baseline="alphabetic"))
    p.add_layout(Label(x=eq_pos[0], y=eq_pos[2], text=r2, text_font=FONT,
                       text_font_size="48px", text_color="black",
                       text_align="center", text_baseline="alphabetic"))
    return p


p1 = build(room3_name, room3_eq, room3_r2, room3_fit,
           [(c3_col_x, c3_col_y), (c3_mid_x, c3_mid_y)], c3_out,
           1514, 826, (243, 76, 45, 226), (-13.75, 11.37), (13.4, 11.53, 8.7))
p2 = build(room9_name, room9_eq, room9_r2, room9_fit,
           [(c9_col_x, c9_col_y), (c9_mid_x, c9_mid_y)], c9_out,
           1506, 812, (250, 80, 49, 236), (-13.72, 11.54), (14.19, 11.8, 8.85))

layout = column(Spacer(height=20),
                row(Spacer(width=28), p1, Spacer(width=13), p2))

open("out.html", "w").write(file_html(layout, INLINE))
